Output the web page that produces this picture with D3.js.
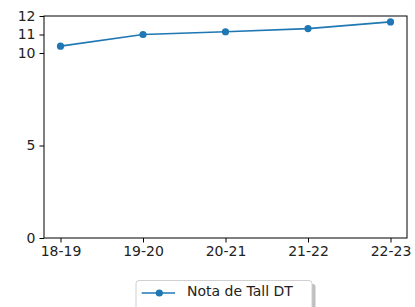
<!DOCTYPE html>
<html><head><meta charset="utf-8">
<script src="https://cdn.jsdelivr.net/npm/d3@7"></script>
<style>body{margin:0;background:#fff}svg{display:block}text{font-family:"DejaVu Sans",sans-serif;fill:#222}</style>
</head><body>
<script>
const categories = ["18-19","19-20","20-21","21-22","22-23"];
const values = [10.37, 11.0, 11.15, 11.32, 11.68];
const yTicks = [0, 5, 10, 11, 12];
const seriesName = "Nota de Tall DT";

const W = 415, H = 307;
const FS = 14;
const m = {left: 44, right: 8, top: 16, bottom: 69};
const svg = d3.select("body").append("svg").attr("width", W).attr("height", H);
const pw = W - m.left - m.right, ph = H - m.top - m.bottom;
const g = svg.append("g").attr("transform", `translate(${m.left},${m.top})`);

const idx = d3.range(categories.length);
const x = d3.scaleLinear().domain([-0.2, categories.length - 1 + 0.2]).range([0, pw]);
const y = d3.scaleLinear().domain([0, 12]).range([ph, 0]);

const xa = g.append("g").attr("transform", `translate(0,${ph})`)
  .call(d3.axisBottom(x).tickValues(idx).tickFormat(i => categories[i]).tickSize(4.5).tickPadding(4));
const ya = g.append("g")
  .call(d3.axisLeft(y).tickValues(yTicks).tickFormat(d3.format("d")).tickSize(4.5).tickPadding(4));
[xa, ya].forEach(a => {
  a.select(".domain").remove();
  a.selectAll("line").attr("stroke", "#000").attr("stroke-width", 1);
  a.selectAll("text").attr("font-size", FS).attr("fill", "#222").style("font-family", "DejaVu Sans");
});
g.append("rect").attr("x", 0).attr("y", 0).attr("width", pw).attr("height", ph)
  .attr("fill", "none").attr("stroke", "#000").attr("stroke-width", 1);

const color = "#1f77b4";
g.append("path").datum(values)
  .attr("d", d3.line().x((d, i) => x(i)).y(d => y(d)))
  .attr("fill", "none").attr("stroke", color).attr("stroke-width", 1.6);
g.selectAll("circle").data(values).join("circle")
  .attr("cx", (d, i) => x(i)).attr("cy", d => y(d)).attr("r", 3.6).attr("fill", color);

// legend
const lx = 136, ly = 280.5, lw = 176, lh = 34;
svg.append("rect").attr("x", lx + 3.5).attr("y", ly + 3.5).attr("width", lw).attr("height", lh)
  .attr("rx", 3).attr("fill", "#7f7f7f").attr("opacity", 0.5);
svg.append("rect").attr("x", lx).attr("y", ly).attr("width", lw).attr("height", lh)
  .attr("rx", 3).attr("fill", "#fff").attr("stroke", "#d0d0d0").attr("stroke-width", 1);
const cy = 293;
svg.append("line").attr("x1", lx + 5.7).attr("x2", lx + 39).attr("y1", cy).attr("y2", cy)
  .attr("stroke", color).attr("stroke-width", 1.6);
svg.append("circle").attr("cx", lx + 23.3).attr("cy", cy).attr("r", 3.6).attr("fill", color);
svg.append("text").attr("x", lx + 51).attr("y", 291.5).attr("dy", "0.35em")
  .attr("font-size", FS).text(seriesName);
</script>
</body></html>
